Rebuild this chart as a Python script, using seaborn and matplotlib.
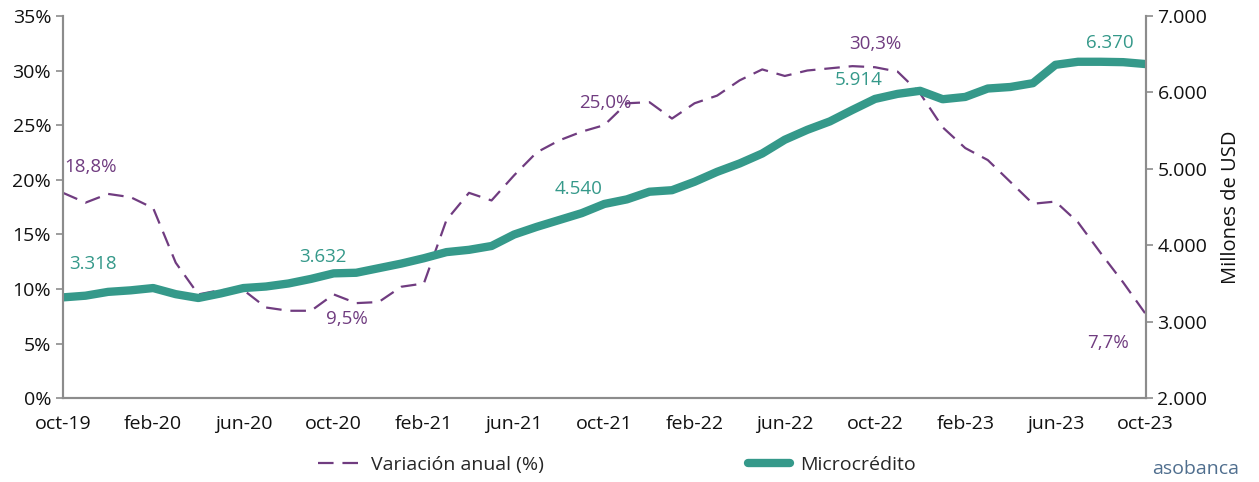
import matplotlib
matplotlib.use("Agg")
import matplotlib.pyplot as plt
from matplotlib.ticker import FuncFormatter
from matplotlib.lines import Line2D
import seaborn as sns
import pandas as pd

# Monthly series oct-19 .. oct-23
months = ["oct-19", "nov-19", "dic-19", "ene-20", "feb-20", "mar-20", "abr-20", "may-20",
          "jun-20", "jul-20", "ago-20", "sep-20", "oct-20", "nov-20", "dic-20", "ene-21",
          "feb-21", "mar-21", "abr-21", "may-21", "jun-21", "jul-21", "ago-21", "sep-21",
          "oct-21", "nov-21", "dic-21", "ene-22", "feb-22", "mar-22", "abr-22", "may-22",
          "jun-22", "jul-22", "ago-22", "sep-22", "oct-22", "nov-22", "dic-22", "ene-23",
          "feb-23", "mar-23", "abr-23", "may-23", "jun-23", "jul-23", "ago-23", "sep-23",
          "oct-23"]

microcredito = [3318, 3340, 3390, 3410, 3440, 3360, 3310, 3370,
                3440, 3460, 3500, 3560, 3632, 3640, 3700, 3760,
                3830, 3910, 3940, 3990, 4140, 4240, 4330, 4420,
                4540, 4600, 4700, 4720, 4830, 4960, 5070, 5200,
                5380, 5510, 5620, 5770, 5914, 5980, 6020, 5910,
                5940, 6050, 6070, 6120, 6360, 6400, 6400, 6395,
                6370]

variacion = [18.8, 17.9, 18.7, 18.4, 17.4, 12.4, 9.5, 9.9,
             9.9, 8.3, 8.0, 8.0, 9.5, 8.7, 8.8, 10.2,
             10.5, 16.3, 18.8, 18.1, 20.4, 22.5, 23.6, 24.4,
             25.0, 27.0, 27.1, 25.6, 27.0, 27.7, 29.1, 30.1,
             29.5, 30.0, 30.2, 30.4, 30.3, 29.9, 27.9, 24.8,
             22.9, 21.8, 19.8, 17.8, 18.0, 16.1, 13.3, 10.6,
             7.7]

tick_labels = ["oct-19", "feb-20", "jun-20", "oct-20", "feb-21", "jun-21", "oct-21",
               "feb-22", "jun-22", "oct-22", "feb-23", "jun-23", "oct-23"]

label_idx = [0, 12, 24, 36, 48]

GREEN = "#35998A"
PURPLE = "#703C80"
SPINE = "#8C8C8C"

df = pd.DataFrame({"pos": range(len(months)), "mes": months,
                   "Microcrédito": microcredito, "Variación": variacion})

sns.set_theme(style="white")
plt.rcParams["font.family"] = ["Open Sans", "DejaVu Sans"]

fig = plt.figure(figsize=(12.59, 4.82), dpi=100)
ax = fig.add_axes([0.05, 0.174, 0.86, 0.793])
ax2 = ax.twinx()

sns.lineplot(data=df, x="pos", y="Variación", ax=ax, color=PURPLE, lw=1.6)
ax.lines[0].set_dashes((7, 4))
sns.lineplot(data=df, x="pos", y="Microcrédito", ax=ax2, color=GREEN, lw=6,
             solid_joinstyle="round", solid_capstyle="butt")

ax.set_xlim(0, len(months) - 1)
ax.set_ylim(0, 35)
ax2.set_ylim(2000, 7000)
ax.set_xticks(range(0, len(months), 4))
ax.set_xticklabels(tick_labels)
ax.set_yticks(range(0, 36, 5))
ax.yaxis.set_major_formatter(FuncFormatter(lambda v, p: f"{v:.0f}%"))
ax2.set_yticks(range(2000, 7001, 1000))
ax2.yaxis.set_major_formatter(FuncFormatter(lambda v, p: f"{v:,.0f}".replace(",", ".")))
ax.set_xlabel("")
ax.set_ylabel("")
ax2.set_xlabel("")
ax2.set_ylabel("Millones de USD", fontsize=14.5, color="#111111", labelpad=10)

for a in (ax, ax2):
    a.spines["top"].set_visible(False)
    for s in ("left", "right", "bottom"):
        a.spines[s].set_color(SPINE)
        a.spines[s].set_linewidth(1.5)
    a.tick_params(colors=SPINE, labelcolor="#111111", labelsize=14,
                  length=5, width=1.2, direction="out")
ax.tick_params(axis="x", pad=7)
ax.grid(False)
ax2.grid(False)

# data labels
micro_off = [(30, 33), (-11, 16), (-26, 15), (-16, 19), (-36, 21)]
var_off = [(28, 26), (13, -25), (1, 22), (0, 23), (-38, -29)]
for i, (mo, vo) in zip(label_idx, zip(micro_off, var_off)):
    ax2.annotate(f"{microcredito[i]:,}".replace(",", "."), (i, microcredito[i]),
                 xytext=mo, textcoords="offset pixels", ha="center", va="center",
                 color=GREEN, fontsize=13.5)
    ax.annotate(f"{variacion[i]:.1f}%".replace(".", ","), (i, variacion[i]),
                xytext=vo, textcoords="offset pixels", ha="center", va="center",
                color=PURPLE, fontsize=13.5)

handles = [Line2D([], [], color=PURPLE, lw=1.6, dashes=(7, 4)),
           Line2D([], [], color=GREEN, lw=6)]
fig.legend(handles, ["Variación anual (%)", "Microcrédito"], loc="center",
           bbox_to_anchor=(0.49, 0.035), ncol=2, frameon=False, fontsize=14,
           handlelength=2.2, handletextpad=0.5, columnspacing=10.5)

fig.text(0.915, 0.008, "asobanca", color="#4F6E8E", fontsize=14, ha="left",
         va="bottom")

fig.savefig("out.png", dpi=100)
